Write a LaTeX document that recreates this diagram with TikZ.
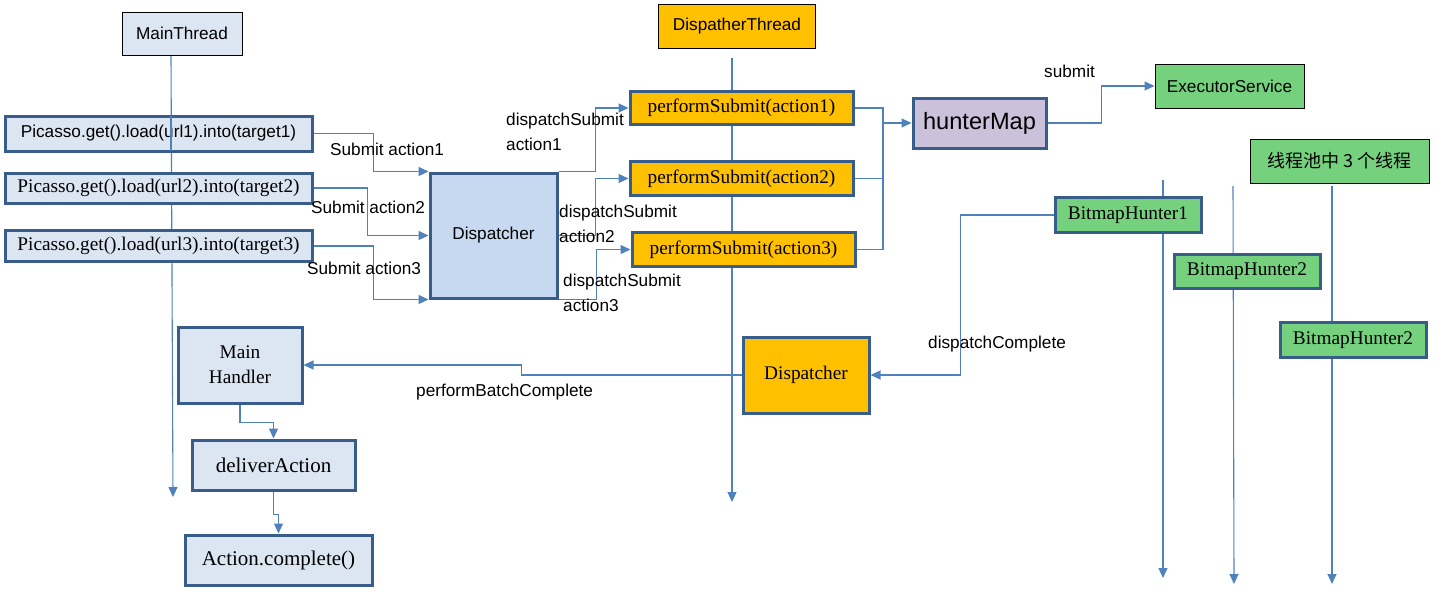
\documentclass[tikz,border=0pt]{standalone}
\usepackage{fontspec}
\setmainfont{Liberation Serif}
\setsansfont{Liberation Sans}
\newfontfamily\cjkfont{Noto Sans CJK SC}
\usetikzlibrary{arrows.meta}
\definecolor{edgeblue}{HTML}{385D8A}
\definecolor{wireblue}{HTML}{4F81BD}
\definecolor{paleblue}{HTML}{DCE6F2}
\definecolor{midblue}{HTML}{C6D9F0}
\definecolor{amber}{HTML}{FFC000}
\definecolor{lilac}{HTML}{CCC1DA}
\definecolor{mint}{HTML}{76D17F}
\begin{document}
\begin{tikzpicture}[x=1pt,y=-1pt,
  sf/.style={font=\sffamily\fontsize{17.2}{25}\selectfont},
  rm/.style={font=\rmfamily\fontsize{19.3}{25}\selectfont},
  thinbox/.style={draw=black,line width=1pt,inner sep=0pt},
  thickbox/.style={draw=edgeblue,line width=3pt,inner sep=0pt,align=center},
  wire/.style={draw=wireblue,line width=1.1pt},
  arr/.style={wire,-{Triangle[length=10pt,width=9pt]}},
  lbl/.style={sf,anchor=west,inner sep=0pt,align=left}]
\useasboundingbox (0,0) rectangle (1435,605);
\coordinate (mtA) at (171,55);
\coordinate (mtB) at (173,497);
\coordinate (dtA) at (732,58);
\coordinate (dtB) at (732,502);
\coordinate (l1A) at (1163,180);
\coordinate (l1B) at (1163,578);
\coordinate (l2A) at (1233,186);
\coordinate (l2B) at (1234,584);
\coordinate (l3A) at (1332,186);
\coordinate (l3B) at (1332,584);
\draw[arr] (mtA) -- (mtB);
\draw[arr] (dtA) -- (dtB);
\draw[arr] (l1A) -- (l1B);
\draw[arr] (l2A) -- (l2B);
\draw[arr] (l3A) -- (l3B);
\node[thinbox,fill=paleblue,sf,minimum width=120,minimum height=43] (mt) at (182,33.5) {MainThread};
\node[thickbox,fill=paleblue,sf,minimum width=307,minimum height=35] (p1) at (158.5,133.5) {Picasso.get().load(url1).into(target1)};
\node[thickbox,fill=paleblue,rm,minimum width=307,minimum height=30] (p2) at (158.5,188) {Picasso.get().load(url2).into(target2)};
\node[thickbox,fill=paleblue,rm,minimum width=307,minimum height=31] (p3) at (158.5,246) {Picasso.get().load(url3).into(target3)};
\draw[wire] (171,116) -- (171,151);
\node[thickbox,fill=midblue,sf,minimum width=127,minimum height=125] (disp) at (493.5,235.5) {Dispatcher};
\node[thinbox,fill=amber,sf,minimum width=157,minimum height=44] (dt) at (737,26) {DispatherThread};
\node[thickbox,fill=amber,rm,minimum width=223,minimum height=33] (ps1) at (741.5,108) {performSubmit(action1)};
\node[thickbox,fill=amber,rm,minimum width=223,minimum height=34] (ps2) at (741.5,178.5) {performSubmit(action2)};
\node[thickbox,fill=amber,rm,minimum width=223,minimum height=34] (ps3) at (743.5,249.5) {performSubmit(action3)};
\node[thickbox,fill=lilac,font=\sffamily\fontsize{23.6}{28}\selectfont,minimum width=133,minimum height=50] (hm) at (979.5,123) {hunterMap};
\node[thinbox,fill=mint,sf,minimum width=149,minimum height=44] (es) at (1229.5,86) {ExecutorService};
\node[thinbox,fill=mint,font=\cjkfont\fontsize{18}{22}\selectfont,minimum width=179,minimum height=44] (pool) at (1339.5,161) {线程池中 3 个线程};
\node[thickbox,fill=mint,rm,minimum width=146,minimum height=35] (bh1) at (1128,215) {BitmapHunter1};
\node[thickbox,fill=mint,rm,minimum width=146,minimum height=34] (bh2) at (1247,271) {BitmapHunter2};
\node[thickbox,fill=mint,rm,minimum width=146,minimum height=35] (bh3) at (1353,340) {BitmapHunter2};
\node[thickbox,fill=amber,rm,minimum width=126,minimum height=76] (d2) at (806,375) {Dispatcher};
\node[thickbox,fill=paleblue,rm,minimum width=124,minimum height=76] (mh) at (240,365) {Main\\Handler};
\node[thickbox,fill=paleblue,font=\rmfamily\fontsize{21}{25}\selectfont,minimum width=163,minimum height=50] (da) at (273.5,465) {deliverAction};
\node[thickbox,fill=paleblue,font=\rmfamily\fontsize{21}{25}\selectfont,minimum width=187,minimum height=50] (ac) at (278.5,560) {Action.complete()};
\draw[arr] (p1.east) -- ++(60,0) |- (disp.north west);
\draw[arr] (p2.east) -- ++(54,0) |- (disp.west);
\draw[arr] (p3.east) -- ++(60,0) |- (disp.south west);
\node[lbl] (s1) at (330,149) {Submit action1};
\node[lbl] (s2) at (311,207) {Submit action2};
\node[lbl] (s3) at (307,268) {Submit action3};
\draw[arr] (disp.north east) -- ++(37,0) |- (ps1.west);
\draw[arr] (disp.east) -- ++(37,0) |- (ps2.west);
\draw[arr] (disp.south east) -- ++(38,0) |- (ps3.west);
\node[lbl] (ds1) at (506,131.5) {dispatchSubmit\\action1};
\node[lbl] (ds2) at (559,224) {dispatchSubmit\\action2};
\node[lbl] (ds3) at (563,293) {dispatchSubmit\\action3};
\coordinate (jn) at (883,123);
\draw[wire] (ps1.east) -| (jn);
\draw[wire] (ps2.east) -| (jn);
\draw[wire] (ps3.east) -| (jn);
\draw[arr] (jn) -- (hm.west);
\draw[arr] (hm.east) -- ++(54,0) |- (es.west);
\node[lbl] (sb) at (1044,71) {submit};
\draw[arr] (bh1.west) -- ++(-93,0) |- (d2.east);
\node[lbl] (dc) at (928,344) {dispatchComplete};
\draw[arr] (d2.west) -- ++(-220,0) |- (mh.east);
\node[lbl] (pb) at (416,392) {performBatchComplete};
\draw[arr] (mh.south) -- ++(0,18) -| (da.north);
\draw[arr] (da.south) -- ++(0,23) -| (ac.north);
\end{tikzpicture}
\end{document}
